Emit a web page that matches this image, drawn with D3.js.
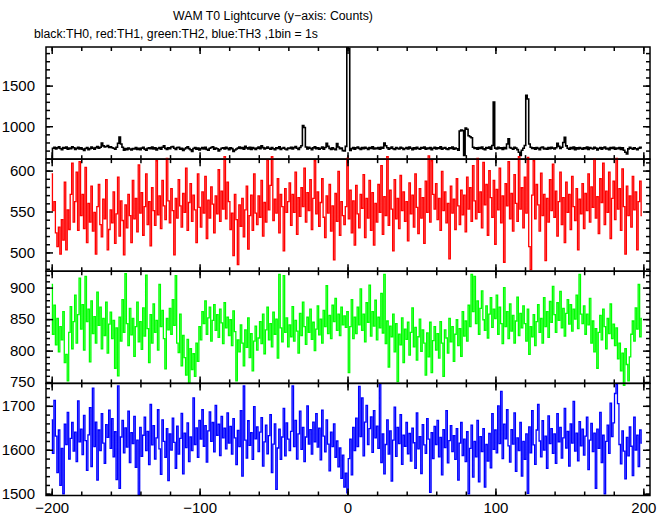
<!DOCTYPE html>
<html><head><meta charset="utf-8">
<script src="https://cdn.jsdelivr.net/npm/d3@7"></script>
<style>
html,body{margin:0;padding:0;background:#fff;}
svg{display:block;font-family:"Liberation Sans",Arial,Helvetica,sans-serif;}
</style></head><body>
<svg id="chart" width="669" height="515"></svg>
<script>
const titleText = "WAM T0 Lightcurve (y\u2212axis: Counts)";
const subtitleText = "black:TH0, red:TH1, green:TH2, blue:TH3 ,1bin = 1s";
const timeStart = -200; // first bin, 1 bin = 1 s
const xTicksMajor = [-200, -100, 0, 100, 200];
const seriesNames = ["TH0", "TH1", "TH2", "TH3"];
const seriesColors = ["#000000", "#ff0000", "#00ff00", "#0000ff"];
const yDomains = [[595, 1975], [477, 614], [748, 926], [1496, 1751]];
const yMajorTicks = [[1000, 1500], [500, 550, 600], [750, 800, 850, 900], [1500, 1600, 1700]];
const yMinorSteps = [100, 10, 10, 20];

const th0 = [
600,728,741,719,733,746,725,712,738,729,744,716,731,722,748,735,714,727,740,721,
733,718,702,726,739,711,724,745,730,717,736,749,728,741,792,758,744,751,762,738,
748,735,729,716,742,790,866,781,741,704,724,711,730,719,708,726,721,738,715,729,
712,731,740,718,706,727,735,722,744,719,733,709,725,738,716,742,760,727,715,734,
722,745,751,729,713,736,741,718,727,703,719,733,746,724,711,690,726,739,717,731,
709,724,736,721,742,715,705,729,738,746,718,731,722,697,714,728,735,719,741,727,
712,733,724,690,707,720,731,745,726,739,718,752,734,721,742,715,738,727,713,730,
744,723,760,737,719,731,745,728,716,739,722,711,733,726,748,715,729,737,720,712,
731,725,742,719,736,751,728,714,738,760,1008,985,745,719,741,728,711,733,746,722,
735,718,729,744,716,739,790,752,727,715,733,720,711,788,745,724,731,700,695,752,
1965,1958,702,724,739,718,733,745,727,714,736,722,741,729,713,738,725,746,719,731,
724,738,716,742,729,792,760,735,718,731,744,722,713,736,727,719,741,730,714,726,
739,721,745,728,712,734,720,741,726,717,738,729,744,716,731,723,737,710,728,742,
719,733,725,748,716,730,739,721,713,735,727,744,718,731,722,705,941,952,946,640,
978,962,882,871,858,742,725,733,718,739,727,745,721,712,736,729,743,718,762,1296,
731,719,742,726,735,714,738,723,781,845,736,728,717,741,730,712,680,640,705,729,
762,1382,1335,782,741,725,733,718,739,727,712,736,745,721,729,716,738,724,742,731,
719,735,790,752,726,741,800,864,758,729,717,738,724,745,712,733,721,739,727,716,
734,722,745,713,737,728,719,742,731,708,725,738,716,733,744,721,729,712,736,725,
741,718,730,724,739,715,733,705,680,660,721,742,728,716,735,722,711,729,740,733];

const th1 = [
596,551,562,524,507,531,498,540,515,586,503,552,528,571,609,537,562,598,527,611,
545,571,529,604,512,560,537,581,526,549,498,556,583,534,519,565,541,589,503,528,
552,536,574,511,547,592,520,563,539,497,558,530,571,545,512,588,541,566,525,607,
548,573,521,556,596,534,562,508,579,551,533,612,546,569,529,588,557,540,615,563,
536,578,551,497,566,542,589,557,531,572,549,603,527,561,584,538,570,552,512,596,
555,531,574,548,593,517,564,542,580,559,524,569,547,601,538,575,553,617,541,586,
562,528,548,496,571,540,485,558,532,566,519,552,581,504,545,570,527,596,548,534,
569,543,588,520,561,537,613,552,582,617,539,565,548,590,524,571,556,502,578,549,
562,585,533,571,549,598,522,567,544,579,556,603,537,573,551,589,528,566,612,547,
574,532,561,590,543,518,569,548,583,526,557,491,572,538,599,521,562,545,534,556,
615,541,576,524,563,509,582,547,530,571,554,595,518,566,542,588,527,573,509,560,
537,583,549,606,522,568,545,617,533,576,553,502,589,541,566,529,594,551,574,538,
562,514,585,547,570,531,596,555,523,578,542,567,511,587,549,618,537,612,571,553,
584,540,566,527,599,551,574,536,560,492,581,548,565,528,590,557,534,576,546,570,
525,592,553,579,538,606,563,541,615,549,574,530,610,558,583,521,600,567,543,588,
510,577,552,603,536,569,488,584,557,611,541,572,526,595,560,538,617,553,579,530,
592,548,616,507,479,570,612,541,583,558,526,597,545,571,490,566,537,589,551,608,
543,575,520,562,598,534,567,512,586,549,571,528,593,556,539,578,503,565,547,584,
529,572,551,596,537,580,555,614,542,568,523,590,561,609,534,575,549,598,517,566,
587,540,615,553,578,527,602,556,498,581,545,569,531,593,552,574,503,562,587,545];

const th2 = [
905,826,872,809,851,798,838,817,862,781,794,752,829,870,803,846,888,812,857,915,
834,873,801,918,846,866,782,879,827,854,812,893,840,869,803,851,824,877,796,842,
861,819,848,772,836,760,853,815,881,829,922,843,808,867,825,851,791,838,877,814,
846,802,868,823,920,835,781,857,812,874,829,848,801,905,838,864,819,771,851,833,
867,826,881,840,919,812,797,858,776,824,789,761,818,748,803,770,795,759,812,783,
838,817,862,843,879,826,852,869,815,848,873,832,857,821,866,844,811,876,836,853,
824,849,808,863,830,752,817,798,841,812,776,833,805,852,789,827,768,815,839,801,
820,846,811,858,795,833,869,817,843,806,861,826,850,788,921,836,814,919,829,852,
806,841,822,870,815,848,831,796,859,824,877,838,810,853,829,866,818,845,800,834,
871,825,850,812,864,838,903,827,856,819,872,846,883,832,858,824,869,841,855,837,
862,765,838,881,819,853,827,869,841,898,832,858,814,876,845,904,823,862,839,880,
817,853,836,891,828,921,811,847,774,839,822,858,798,843,751,826,809,852,781,834,
818,845,793,829,868,806,837,785,822,850,799,833,812,761,828,790,845,765,816,838,
801,827,788,846,812,759,833,820,796,851,814,838,783,826,849,808,835,791,862,823,
847,815,872,838,921,862,918,843,879,826,867,895,849,832,871,820,858,884,837,866,
851,888,826,869,843,811,900,838,862,819,874,831,856,812,847,885,824,859,836,871,
843,815,866,794,838,822,857,808,846,873,829,851,812,884,838,862,821,878,845,902,
857,829,876,848,894,836,867,823,859,881,842,873,831,866,850,888,835,921,858,843,
871,826,858,841,883,812,847,798,835,772,829,856,817,866,838,803,851,827,874,819,
842,808,836,787,812,768,796,745,803,778,752,790,826,847,815,868,834,905,822,851];

const th3 = [
1668,1592,1712,1631,1548,1645,1519,1603,1500,1658,1612,1685,1579,1626,1662,1597,1640,1573,1711,1618,
1647,1589,1678,1621,1553,1634,1696,1562,1740,1607,1663,1531,1645,1598,1682,1615,1569,1657,1628,1690,
1603,1671,1584,1641,1532,1745,1512,1629,1667,1593,1650,1606,1688,1571,1639,1614,1676,1560,1622,1497,
1651,1585,1633,1674,1598,1642,1566,1703,1611,1655,1579,1627,1691,1602,1544,1668,1619,1583,1648,1530,
1636,1599,1672,1617,1558,1654,1590,1626,1683,1545,1638,1605,1661,1573,1629,1598,1718,1612,1650,1583,
1667,1624,1691,1608,1655,1572,1643,1686,1619,1662,1595,1701,1633,1658,1587,1676,1627,1649,1602,1684,
1615,1653,1590,1671,1627,1566,1644,1607,1689,1540,1745,1622,1581,1666,1610,1639,1578,1698,1625,1652,
1596,1640,1673,1563,1618,1656,1591,1632,1680,1548,1613,1659,1510,1604,1647,1578,1629,1694,1586,1661,
1624,1598,1642,1745,1607,1667,1579,1636,1688,1601,1651,1573,1629,1700,1613,1646,1590,1663,1618,1682,
1606,1649,1577,1690,1631,1595,1668,1613,1552,1640,1607,1659,1583,1620,1561,1604,1535,1588,1515,1547,
1502,1580,1624,1543,1651,1598,1672,1607,1744,1630,1718,1586,1663,1701,1612,1648,1675,1594,1689,1627,
1654,1603,1750,1571,1636,1545,1612,1668,1590,1643,1529,1622,1697,1585,1651,1614,1680,1567,1633,1608,
1662,1591,1637,1574,1649,1616,1558,1684,1602,1630,1546,1657,1611,1592,1671,1624,1503,1639,1580,1653,
1612,1667,1584,1628,1543,1646,1605,1689,1570,1621,1655,1596,1632,1578,1648,1531,1615,1662,1587,1624,
1573,1641,1500,1603,1656,1538,1619,1584,1667,1527,1630,1596,1648,1515,1612,1574,1637,1559,1682,1601,
1645,1593,1700,1614,1733,1580,1658,1625,1691,1609,1572,1646,1613,1684,1551,1627,1598,1662,1540,1619,
1578,1636,1501,1652,1593,1689,1611,1567,1645,1703,1620,1584,1666,1599,1631,1558,1677,1614,1648,1592,
1636,1569,1682,1618,1651,1581,1627,1694,1604,1642,1563,1659,1615,1710,1597,1638,1575,1664,1609,1647,
1588,1631,1674,1555,1622,1660,1596,1638,1512,1647,1603,1685,1571,1633,1500,1619,1656,1592,1706,1630,
1661,1728,1749,1705,1612,1568,1643,1597,1534,1628,1586,1652,1608,1541,1674,1599,1633,1562,1645,1615];

const seriesValues = [th0, th1, th2, th3];

// ---- layout ----
const svg = d3.select("#chart");
const plotLeft = 46, plotRight = 650, plotTop = 47, plotBottom = 495.5;
const panelH = (plotBottom - plotTop) / 4;
const x = d3.scaleLinear().domain([-203.85, 204.5]).range([plotLeft, plotRight]);
const xMinor = d3.range(-200, 201, 20);

function fitText(sel, target, baseSize) {
  const len = sel.node().getComputedTextLength();
  if (len > 0) sel.attr("font-size", (baseSize * target / len).toFixed(2));
}
const title = svg.append("text").attr("x", 273).attr("y", 20).attr("text-anchor", "middle")
  .attr("font-size", 13).attr("fill", "#000").text(titleText);
fitText(title, 200, 13);
const subtitle = svg.append("text").attr("x", 34).attr("y", 38).attr("text-anchor", "start")
  .attr("font-size", 13).attr("fill", "#000").text(subtitleText);
fitText(subtitle, 284, 13);

const defs = svg.append("defs");

seriesValues.forEach((vals, k) => {
  const y0 = plotTop + k * panelH, y1 = y0 + panelH;
  const y = d3.scaleLinear().domain(yDomains[k]).range([y1, y0]);
  const g = svg.append("g");

  defs.append("clipPath").attr("id", "clip" + k).append("rect")
    .attr("x", plotLeft).attr("y", y0 - 6).attr("width", plotRight - plotLeft).attr("height", panelH + 12);

  const data = vals.map((v, i) => ({t: timeStart + i, v}));
  const line = d3.line().x(d => x(d.t)).y(d => y(d.v)).curve(d3.curveStep);
  g.append("path").datum(data).attr("clip-path", "url(#clip" + k + ")")
    .attr("fill", "none").attr("stroke", seriesColors[k]).attr("stroke-width", k === 0 ? 1.6 : 1.3)
    .attr("d", line);

  g.append("rect").attr("x", plotLeft).attr("y", y0).attr("width", plotRight - plotLeft).attr("height", panelH)
    .attr("fill", "none").attr("stroke", "#000").attr("stroke-width", 1.5);

  const styleAxis = sel => {
    sel.select(".domain").remove();
    sel.selectAll(".tick line").attr("stroke", "#000").attr("stroke-width", 1.5);
  };
  const styleText = s => s.selectAll("text").attr("font-size", 15).attr("fill", "#000")
      .attr("font-family", "Liberation Sans, Arial, sans-serif");
  const isLast = k === 3;
  g.append("g").attr("transform", `translate(0,${y1})`)
    .call(d3.axisBottom(x).tickValues(xMinor).tickSize(-4).tickFormat(""))
    .call(styleAxis);
  g.append("g").attr("transform", `translate(0,${y1})`)
    .call(d3.axisBottom(x).tickValues(xTicksMajor).tickSize(-7).tickPadding(isLast ? 7 : 0)
      .tickFormat(isLast ? (d => d < 0 ? "\u2212" + Math.abs(d) : String(d)) : ""))
    .call(styleAxis).call(styleText);
  g.append("g").attr("transform", `translate(0,${y0})`)
    .call(d3.axisTop(x).tickValues(xMinor).tickSize(-4).tickFormat("")).call(styleAxis);
  g.append("g").attr("transform", `translate(0,${y0})`)
    .call(d3.axisTop(x).tickValues(xTicksMajor).tickSize(-7).tickFormat("")).call(styleAxis);

  const [lo, hi] = yDomains[k];
  const st = yMinorSteps[k];
  const yMinor = d3.range(Math.ceil(lo / st) * st, hi + 0.001, st);
  g.append("g").attr("transform", `translate(${plotLeft},0)`)
    .call(d3.axisLeft(y).tickValues(yMinor).tickSize(-4).tickFormat("")).call(styleAxis);
  g.append("g").attr("transform", `translate(${plotLeft},0)`)
    .call(d3.axisLeft(y).tickValues(yMajorTicks[k]).tickSize(-7).tickPadding(11).tickFormat(d3.format("d")))
    .call(styleAxis).call(styleText);
  g.append("g").attr("transform", `translate(${plotRight},0)`)
    .call(d3.axisRight(y).tickValues(yMinor).tickSize(-4).tickFormat("")).call(styleAxis);
  g.append("g").attr("transform", `translate(${plotRight},0)`)
    .call(d3.axisRight(y).tickValues(yMajorTicks[k]).tickSize(-7).tickFormat("")).call(styleAxis);
});
</script>
</body></html>
